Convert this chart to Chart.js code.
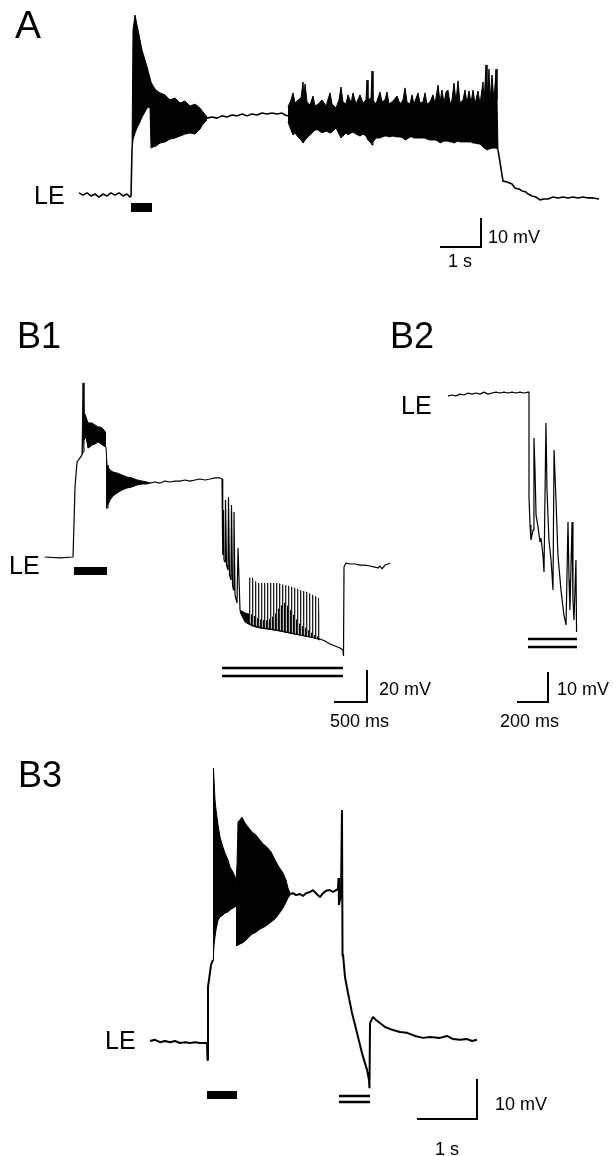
<!DOCTYPE html>
<html>
<head>
<meta charset="utf-8">
<script src="https://cdn.jsdelivr.net/npm/chart.js@4.4.1/dist/chart.umd.min.js"></script>
<style>
  html, body { margin: 0; padding: 0; background: #fff; }
  #page { position: relative; width: 614px; height: 1156px; overflow: hidden; }
  canvas { position: absolute; }
  .lbl { position: absolute; font-family: "Liberation Sans", Arial, Helvetica, sans-serif; line-height: 1; white-space: nowrap; color: #000; }
</style>
</head>
<body>
<div id="page">
  <canvas id="cA" width="614" height="300" style="left:0;top:0"></canvas>
  <canvas id="cB1" width="420" height="440" style="left:0;top:300px"></canvas>
  <canvas id="cB2" width="194" height="440" style="left:420px;top:300px"></canvas>
  <canvas id="cB3" width="614" height="416" style="left:0;top:740px"></canvas>
</div>
<script>
// ---- Panel A (time in s, membrane potential in mV relative to LE level) ----
const tA = [0, 0.1, 0.2, 0.3, 0.4, 0.5, 0.6, 0.7, 0.8, 0.9, 1.0, 1.1, 1.2, 1.275, 1.3, 1.325, 1.325,
  3.2, 3.325, 3.45, 3.575, 3.7, 3.825, 3.95, 4.075, 4.2, 4.325, 4.45, 4.575, 4.7, 4.825, 4.95, 5.075, 5.15, 5.225, 5.225,
  10.475, 10.525, 10.575, 10.6, 10.7, 10.825, 10.9, 11.0, 11.075, 11.175, 11.225, 11.325, 11.425, 11.525, 11.625, 11.725, 11.85, 11.975, 12.1, 12.225, 12.35, 12.475, 12.6, 12.725, 12.85, 13.0];
const vA = [0.4, -0.4, 0.4, -0.7, 0, -1.1, 0, -0.7, 0.4, -0.4, 0.4, -0.7, 0, -1.1, -0.7, 15.7, null,
  27.1, 27.5, 27.1, 27.9, 27.5, 28.2, 27.9, 28.6, 27.9, 28.6, 28.2, 28.9, 28.6, 28.9, 28.6, 28.9, 28.2, 27.9, null,
  15.7, 11.4, 6.8, 4.6, 4.3, 3.6, 2.1, 1.8, 1.1, 0.7, 0, -0.7, -1.1, -2.1, -1.8, -1.8, -1.1, -1.4, -1.1, -1.4, -1.1, -1.4, -1.1, -1.4, -1.4, -1.8];
// oscillation envelopes
const tA1 = [1.325, 1.35, 1.4, 1.45, 1.525, 1.575, 1.65, 1.7, 1.775, 1.8, 1.85, 1.925, 2.025, 2.15, 2.275, 2.4, 2.525, 2.65, 2.775, 2.9, 3.025, 3.1, 3.2];
const hiA1 = [15.7, 58.6, 63.9, 60.4, 55.0, 51.4, 47.9, 45.4, 41.4, 40.0, 38.6, 37.1, 36.1, 35.4, 33.6, 34.3, 32.5, 33.2, 31.4, 32.1, 30.7, 29.3, 27.5];
const loA1 = [15.7, 19.3, 21.8, 23.6, 25.7, 27.5, 29.3, 30.7, 31.1, 16.4, 16.8, 17.1, 18.2, 18.6, 19.6, 20.0, 20.7, 21.4, 21.8, 21.4, 23.2, 25.0, 26.4];
const tA2 = [5.225, 5.3, 5.35, 5.4, 5.475, 5.55, 5.6, 5.625, 5.65, 5.7,
  5.775, 5.85, 5.9, 5.975, 6.075, 6.175, 6.275, 6.325, 6.425, 6.5,
  6.55, 6.6, 6.675, 6.725, 6.8, 6.85, 6.925, 7.025, 7.1, 7.175,
  7.2, 7.225, 7.3, 7.325, 7.35, 7.425, 7.525, 7.575, 7.65, 7.7,
  7.75, 7.85, 7.95, 8.025, 8.1, 8.15, 8.2, 8.275, 8.325, 8.375,
  8.475, 8.525, 8.6, 8.65, 8.7, 8.775, 8.85, 8.9, 8.975, 9.025,
  9.075, 9.125, 9.175, 9.225, 9.275, 9.325, 9.375, 9.425, 9.475, 9.525,
  9.6, 9.65, 9.7, 9.75, 9.8, 9.85, 9.9, 9.975, 10.025, 10.1,
  10.125, 10.175, 10.2, 10.25, 10.275, 10.325, 10.375, 10.425, 10.45, 10.475];
const hiA2 = [31.1, 33.6, 36.1, 32.5, 33.6, 34.3, 40.0, 33.6, 39.3, 32.9,
  31.8, 35.0, 31.4, 32.1, 33.6, 31.4, 36.1, 32.1, 30.7, 33.6,
  38.2, 32.9, 32.1, 35.4, 32.5, 36.1, 32.1, 35.4, 32.5, 33.6,
  40.7, 33.6, 34.3, 43.9, 33.6, 32.1, 36.4, 32.9, 33.6, 36.4,
  32.1, 33.2, 35.0, 32.1, 33.6, 37.9, 32.9, 32.1, 35.4, 32.1,
  36.1, 32.5, 32.9, 36.1, 32.1, 32.9, 35.4, 32.1, 38.9, 32.9,
  37.1, 32.5, 36.4, 37.1, 32.1, 33.6, 39.6, 32.9, 40.4, 32.5,
  33.6, 37.1, 32.5, 36.8, 32.5, 37.1, 32.1, 36.8, 32.1, 40.0,
  32.1, 46.1, 33.6, 44.6, 33.6, 42.5, 32.9, 44.6, 33.6, 15.7];
const loA2 = [25.7, 22.9, 21.1, 21.8, 20.4, 19.3, 18.2, 18.6, 19.3, 20.0,
  21.1, 22.1, 22.9, 22.9, 21.8, 22.5, 21.8, 22.1, 23.6, 21.4,
  20.0, 20.7, 21.8, 21.1, 21.8, 22.1, 21.4, 20.7, 21.4, 20.7,
  20.0, 19.3, 18.2, 17.5, 18.6, 20.0, 20.0, 20.4, 20.7, 20.7,
  20.4, 20.7, 20.4, 20.4, 20.0, 19.3, 19.6, 20.4, 20.4, 20.0,
  20.0, 20.0, 20.0, 20.0, 19.6, 19.3, 19.3, 19.3, 18.9, 18.2,
  18.6, 18.9, 18.9, 18.9, 18.6, 18.6, 18.2, 18.6, 18.9, 18.6,
  18.6, 18.6, 18.6, 18.6, 18.6, 18.2, 18.2, 17.9, 17.9, 16.8,
  16.4, 16.1, 15.7, 16.1, 16.1, 16.4, 16.4, 16.4, 16.4, 15.7];
const stimA = [1.3, 1.825];

// ---- Panel B1 ----
const tB1 = [0, 0.234, 0.438, 0.453, 0.469, 0.5, 0.547, 0.578, 0.578,
  1.641, 1.719, 1.797, 1.875, 1.953, 2.031, 2.109, 2.188, 2.266, 2.344, 2.422, 2.5, 2.578, 2.656, 2.734, 2.766,
  2.773, 2.781, 2.789, 2.797, 2.813, 2.820, 2.836, 2.859, 2.867, 2.883, 2.906, 2.914, 2.930, 2.945, 2.953, 2.969, 3.0, 3.016, 3.031, 3.047,
  3.078, 3.125, 3.172, 3.281, 3.391, 3.516, 3.672, 3.828, 3.984, 4.141, 4.297, 4.375, 4.453, 4.531, 4.609, 4.656, 4.664, 4.672, 4.703, 4.766,
  4.844, 4.922, 5.0, 5.078, 5.156, 5.203, 5.234, 5.266, 5.313, 5.359, 5.391];
const vB1 = [0, -0.6, 0, 0, 45.2, 61.3, 63.9, 65.8, null,
  47.7, 48.4, 47.7, 49.0, 48.4, 49.0, 49.0, 49.7, 49.0, 49.7, 50.3, 49.7, 50.3, 51.0, 51.0, 50.3,
  2.6, 1.3, 30.3, -1.9, -3.2, 36.8, -5.2, -8.4, 38.7, -11.6, -14.8, 33.5, -18.1, -21.3, 29.0, -24.5, -29.7, 5.8, 5.8, -34.2,
  -37.4, -40.6, -42.6, -44.5, -45.8, -46.5, -47.7, -49.0, -50.3, -51.6, -52.9, -54.2, -56.1, -57.4, -58.7, -60.0, -63.9, -6.5, -3.9, -4.5,
  -4.5, -5.2, -5.2, -5.8, -6.5, -7.1, -5.8, -7.7, -5.2, -4.5, -3.9];
const tB1a = [0.578, 0.594, 0.609, 0.641, 0.672, 0.703, 0.734, 0.781, 0.828, 0.859, 0.891, 0.922, 0.953];
const hiB1a = [65.8, 112.3, 93.5, 90.3, 86.5, 86.5, 86.5, 85.2, 83.9, 83.9, 83.2, 81.9, 80.0];
const loB1a = [65.8, 67.7, 75.5, 77.4, 70.3, 71.0, 72.3, 72.9, 74.2, 73.5, 72.3, 71.6, 71.0];
const tB1b = [0.953, 0.969, 0.984, 1.016, 1.063, 1.125, 1.203, 1.281, 1.359, 1.438, 1.516, 1.594, 1.641];
const hiB1b = [71.0, 59.4, 58.1, 56.1, 54.8, 54.2, 52.9, 51.6, 51.0, 49.7, 49.0, 48.4, 47.7];
const loB1b = [31.6, 31.6, 33.5, 36.8, 39.4, 41.3, 43.2, 44.5, 45.2, 46.5, 47.1, 47.1, 47.7];
// spike train riding on the hyperpolarisation
const tB1c = [3.172, 3.234, 3.313, 3.438, 3.625, 3.75, 3.875, 3.984, 4.094, 4.188, 4.281, 4.313];
const hiB1c = [-13.5, -12.9, -16.8, -16.8, -16.8, -18.1, -19.4, -21.3, -22.6, -24.5, -26.5, -51.0];
const loB1c = [-42.6, -44.5, -45.2, -45.8, -47.1, -48.4, -49.7, -50.3, -51.0, -52.3, -52.9, -52.9];
const tB1d = [3.047, 3.125, 3.234, 3.359, 3.484, 3.594, 3.672, 3.75, 3.828, 3.906, 3.984, 4.063, 4.141, 4.219, 4.297];
const hiB1d = [-34.2, -36.1, -37.4, -40.6, -41.3, -37.4, -32.3, -29.7, -34.2, -39.4, -43.9, -45.8, -48.4, -51.0, -52.3];
const loB1d = [-35.5, -41.9, -44.5, -45.8, -46.5, -47.1, -47.7, -48.4, -49.0, -49.7, -50.3, -51.0, -51.6, -52.3, -53.5];
const stimB1 = [0.453, 0.969];
const pulseB1 = [2.766, 4.656];

// ---- Panel B2 ----
const tB2 = [0, 0.027, 0.053, 0.08, 0.107, 0.133, 0.16, 0.187, 0.213, 0.24, 0.267, 0.293, 0.32, 0.347, 0.373, 0.4, 0.427, 0.453, 0.48, 0.507, 0.533,
  0.54, 0.54, 0.547, 0.553, 0.567, 0.573, 0.58, 0.587, 0.6, 0.613, 0.62, 0.633, 0.64, 0.653, 0.66, 0.673, 0.687, 0.7, 0.707, 0.72,
  0.733, 0.753, 0.773, 0.787, 0.8, 0.807, 0.813, 0.827, 0.833, 0.84, 0.853, 0.857];
const vB2 = [-0.3, 0, -0.3, 0.3, 0, 0.7, 0.3, 0.7, 0.3, 1.0, 0.3, 0.7, 1.0, 0.7, 1.0, 0.7, 1.0, 0.7, 1.0, 0.7, 1.0,
  1.0, -35.5, -44.8, -50.0, -46.6, -14.8, -25.9, -41.4, -45.5, -50.7, -49.3, -55.2, -61.0, -9.7, -32.8, -50.0, -56.9, -67.2, -19.0, -36.2,
  -55.2, -67.2, -75.9, -79.3, -43.8, -63.8, -74.1, -43.8, -70.7, -77.6, -56.9, -81.7];
const pulseB2 = [0.533, 0.86];

// ---- Panel B3 ----
const tB3 = [0, 0.085, 0.169, 0.254, 0.339, 0.424, 0.508, 0.593, 0.678, 0.763, 0.847, 0.949, 0.966, 0.975, 0.983, 1.034, 1.068, 1.068,
  2.373, 2.424, 2.475, 2.542, 2.593, 2.644, 2.712, 2.763, 2.814, 2.881, 2.932, 2.983, 3.051, 3.102, 3.153, 3.186, 3.195, 3.203, 3.22, 3.237,
  3.254, 3.263, 3.271, 3.305, 3.356, 3.424, 3.508, 3.593, 3.678, 3.712, 3.72, 3.729, 3.78, 3.831, 3.898, 3.983, 4.119, 4.237, 4.356, 4.492,
  4.627, 4.746, 4.915, 5.034, 5.136, 5.254, 5.373, 5.458, 5.542];
const vB3 = [0, 0.3, -0.3, 0, -0.3, 0, -0.5, -0.3, -0.5, -0.3, -0.5, -0.5, -0.5, -4.9, 13.8, 19.5, 20.8, null,
  37.7, 37.9, 37.4, 37.7, 37.2, 37.9, 38.2, 38.7, 37.9, 36.9, 37.9, 38.5, 38.7, 38.2, 38.7, 39.0, 41.8, 34.9, 36.2, 37.4,
  59.2, 21.8, 22.3, 16.4, 12.3, 7.2, 2.1, -3.1, -7.4, -10.0, -12.1, 4.6, 6.2, 5.4, 4.6, 3.6, 2.8, 2.3, 2.1, 1.3,
  0.8, 1.0, 0.8, 1.3, 0.5, 0.3, 0.5, 0, 0.3];
const tB3a = [1.068, 1.076, 1.085, 1.102, 1.119, 1.153, 1.186, 1.237, 1.271, 1.322, 1.356, 1.407, 1.441, 1.458];
const hiB3a = [20.8, 70.0, 66.9, 61.8, 59.2, 55.4, 52.3, 49.7, 48.2, 46.4, 44.6, 43.3, 42.1, 41.3];
const loB3a = [20.8, 22.1, 24.6, 26.7, 28.5, 31.0, 31.8, 32.3, 32.8, 33.1, 33.6, 34.1, 34.4, 34.6];
const tB3b = [1.458, 1.475, 1.492, 1.525, 1.559, 1.610, 1.661, 1.729, 1.797, 1.864, 1.932, 1.983, 2.051, 2.119, 2.186, 2.254, 2.305, 2.339, 2.373];
const hiB3b = [41.3, 45.1, 56.2, 56.7, 57.4, 55.9, 54.9, 53.6, 52.8, 51.5, 50.3, 49.7, 48.5, 46.4, 44.6, 43.1, 41.3, 39.2, 37.9];
const loB3b = [24.6, 24.4, 24.6, 24.9, 25.1, 25.6, 26.4, 27.4, 27.9, 28.7, 29.2, 29.7, 30.5, 31.3, 32.6, 34.1, 35.6, 36.7, 37.4];
const stimB3 = [0.966, 1.475];
const pulseB3 = [3.203, 3.729];

// ---- helpers ----
const pts = (ts, vs) => ts.map((t, i) => ({ x: t, y: vs[i] }));

function trace(ts, vs, w) {
  return { data: pts(ts, vs), borderColor: '#000', borderWidth: w, pointRadius: 0, fill: false, spanGaps: false };
}

// upper/lower envelope pair, area between them filled
function band(ts, hi, lo, color, w) {
  return [
    { data: pts(ts, hi), borderColor: color, backgroundColor: color, borderWidth: w, pointRadius: 0, fill: '+1' },
    { data: pts(ts, lo), borderColor: color, borderWidth: w, pointRadius: 0, fill: false }
  ];
}

// axis range so that value 0 sits at `origin` px and `ppu` px per unit
function xRange(origin, ppu, size) { return [-origin / ppu, (size - origin) / ppu]; }
function yRange(origin, ppu, size) { return [-(size - origin) / ppu, origin / ppu]; }

// stimulus bar, double bars and the L-shaped scale bar
function decor(cfg) {
  return {
    id: 'decor',
    afterDatasetsDraw(chart) {
      const { ctx, scales: { x, y } } = chart;
      ctx.save();
      ctx.fillStyle = '#000';
      ctx.strokeStyle = '#000';
      if (cfg.stim) {
        const x0 = x.getPixelForValue(cfg.stim[0]), x1 = x.getPixelForValue(cfg.stim[1]);
        ctx.fillRect(x0, cfg.stimTop, x1 - x0, cfg.stimH);
      }
      if (cfg.pulse) {
        const x0 = x.getPixelForValue(cfg.pulse[0]), x1 = x.getPixelForValue(cfg.pulse[1]);
        ctx.lineWidth = 2.5;
        ctx.beginPath();
        for (const py of cfg.pulseY) { ctx.moveTo(x0, py); ctx.lineTo(x1, py); }
        ctx.stroke();
      }
      const [cx, cy] = cfg.corner;
      const w = x.getPixelForValue(cfg.dt) - x.getPixelForValue(0);
      const h = y.getPixelForValue(0) - y.getPixelForValue(cfg.dv);
      ctx.lineWidth = 2;
      ctx.lineCap = 'square';
      ctx.beginPath();
      ctx.moveTo(cx - w, cy);
      ctx.lineTo(cx, cy);
      ctx.lineTo(cx, cy - h);
      ctx.stroke();
      ctx.restore();
    }
  };
}

function makeChart(id, datasets, xr, yr, deco) {
  return new Chart(document.getElementById(id), {
    type: 'line',
    data: { datasets },
    options: {
      responsive: false,
      animation: false,
      devicePixelRatio: 1,
      events: [],
      layout: { padding: 0 },
      scales: {
        x: { type: 'linear', display: false, min: xr[0], max: xr[1] },
        y: { type: 'linear', display: false, min: yr[0], max: yr[1] }
      },
      plugins: { legend: { display: false }, tooltip: { enabled: false } },
      elements: { point: { radius: 0 }, line: { tension: 0, borderJoinStyle: 'bevel' } }
    },
    plugins: [deco]
  });
}

// comb-like fill for the dense spike train in B1
const stripe = document.createElement('canvas');
stripe.width = 3; stripe.height = 1;
const sctx = stripe.getContext('2d');
sctx.fillStyle = '#222';
sctx.fillRect(0, 0, 1, 1);
sctx.fillStyle = '#bbb';
sctx.fillRect(1, 0, 1, 1);
const comb = document.getElementById('cB1').getContext('2d').createPattern(stripe, 'repeat');

makeChart('cA', [
  trace(tA, vA, 1.6),
  ...band(tA1, hiA1, loA1, '#000', 1),
  ...band(tA2, hiA2, loA2, '#000', 1)
], xRange(79, 40, 614), yRange(194, 2.8, 300),
  decor({ stim: stimA, stimTop: 203, stimH: 9, corner: [481, 247], dt: 1, dv: 10 }));

makeChart('cB1', [
  trace(tB1, vB1, 1.2),
  ...band(tB1a, hiB1a, loB1a, '#000', 1),
  ...band(tB1b, hiB1b, loB1b, '#000', 1),
  ...band(tB1c, hiB1c, loB1c, comb, 0),
  ...band(tB1d, hiB1d, loB1d, '#000', 1)
], xRange(45, 64, 420), yRange(257, 1.55, 440),
  decor({ stim: stimB1, stimTop: 267, stimH: 8, pulse: pulseB1, pulseY: [368, 376], corner: [367, 402], dt: 0.5, dv: 20 }));

makeChart('cB2', [
  trace(tB2, vB2, 1.2)
], xRange(28, 150, 194), yRange(95, 2.9, 440),
  decor({ pulse: pulseB2, pulseY: [339, 347], corner: [128, 402], dt: 0.2, dv: 10 }));

makeChart('cB3', [
  trace(tB3, vB3, 2),
  ...band(tB3a, hiB3a, loB3a, '#000', 1),
  ...band(tB3b, hiB3b, loB3b, '#000', 1)
], xRange(150, 59, 614), yRange(301, 3.9, 416),
  decor({ stim: stimB3, stimTop: 351, stimH: 8, pulse: pulseB3, pulseY: [356, 362], corner: [477, 379], dt: 1, dv: 10 }));

// text labels: [text, left, baseline, font size]
const labels = [
  ['A', 15, 38, 39], ['LE', 34, 204, 25], ['10 mV', 488, 243, 18], ['1 s', 448, 267, 18],
  ['B1', 17, 349, 36], ['B2', 390, 349, 36], ['LE', 9, 574, 25], ['LE', 401, 414, 25],
  ['20 mV', 379, 695, 18], ['500 ms', 330, 727, 18], ['10 mV', 557, 695, 18], ['200 ms', 500, 727, 18],
  ['B3', 18, 788, 36], ['LE', 105, 1049, 25], ['10 mV', 495, 1110, 18], ['1 s', 435, 1155, 18]
];
const page = document.getElementById('page');
for (const [text, left, base, size] of labels) {
  const d = document.createElement('div');
  d.className = 'lbl';
  d.textContent = text;
  d.style.left = left + 'px';
  d.style.top = (base - 0.85 * size) + 'px';
  d.style.fontSize = size + 'px';
  page.appendChild(d);
}
</script>
</body>
</html>
